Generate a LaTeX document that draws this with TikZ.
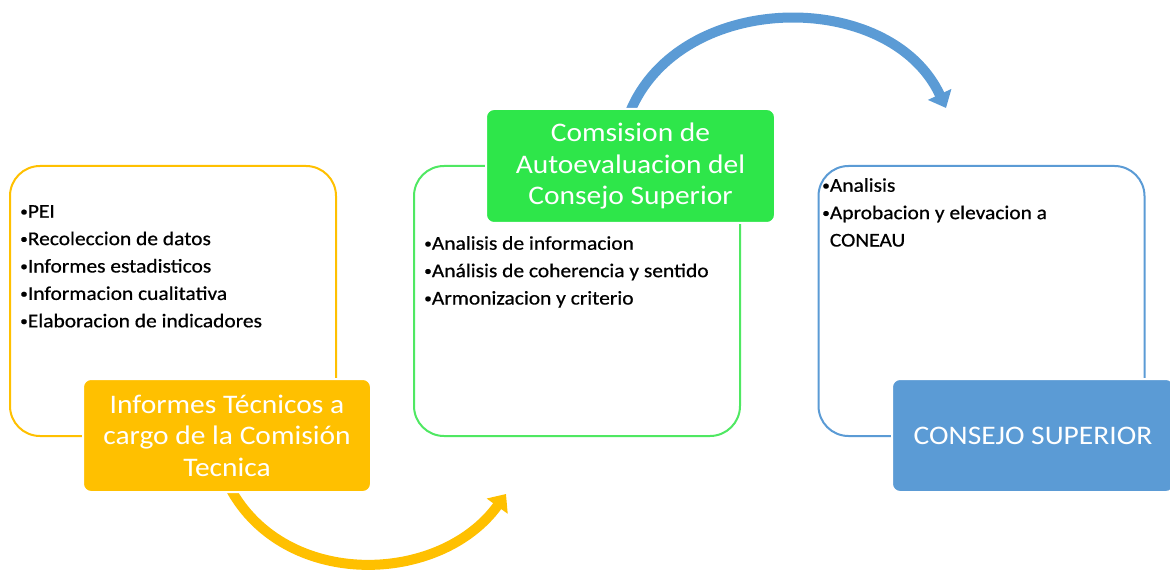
\documentclass[tikz,border=0pt]{standalone}
\usepackage{fontspec}
\setmainfont{Carlito}[FakeStretch=1.1]
\newfontfamily\listfont{Carlito}[FakeStretch=1.1,FakeBold=0.6]
\usetikzlibrary{arrows.meta}
\definecolor{cyel}{HTML}{FFC000}
\definecolor{cgrn}{HTML}{2EE64A}
\definecolor{cgrnl}{HTML}{4FE862}
\definecolor{cblu}{HTML}{5B9BD5}
\newcommand{\bul}{{\fontsize{14}{14}\selectfont\raisebox{0.12em}{•}}}
\tikzset{
  outbox/.style={draw, line width=2pt, fill=white, rounded corners=30pt, minimum width=326pt, minimum height=270pt, inner sep=0pt},
  titlebox/.style={draw=white, line width=2pt, rounded corners=8pt, text=white, align=center, inner sep=0pt,
    font=\fontsize{26.8}{31.5}\selectfont},
  listtext/.style={align=left, anchor=north west, inner sep=0pt, font=\listfont\fontsize{19.5}{27.4}\selectfont},
  flowarrow/.style={line width=10pt, -{Triangle[length=15pt,width=25pt]}}
}
\begin{document}
\begin{tikzpicture}[x=1pt,y=-1pt]
\useasboundingbox (0,0) rectangle (1170,572);
% arrows (behind boxes)
\coordinate (ystart) at (230,488);
\coordinate (yend) at (506,494);
\coordinate (bstart) at (630,112);
\coordinate (bend) at (946,108);
\draw[flowarrow, draw=cyel] (ystart) .. controls (285,590) and (440,585) .. (yend);
\draw[flowarrow, draw=cblu] (bstart) .. controls (680,-10) and (890,-12) .. (bend);
% outline boxes
\node[outbox, draw=cyel] (lbox) at (173,301) {};
\node[outbox, draw=cgrnl] (mbox) at (577,301) {};
\node[outbox, draw=cblu] (rbox) at (981.5,301) {};
% lists
\node[listtext] (ltext) at (20,205) {\bul PEI\\\bul Recoleccion de datos\\\bul Informes estadisticos\\\bul Informacion cualitativa\\\bul Elaboracion de indicadores};
\node[listtext] (mtext) at (424,236) {\bul Analisis de informacion\\\bul Análisis de coherencia y sentido\\\bul Armonizacion y criterio};
\node[listtext] (rtext) at (822,178) {\bul Analisis\\\bul Aprobacion y elevacion a\\\phantom{\bul}CONEAU};
% title boxes
\node[titlebox, fill=cyel, minimum width=288pt, minimum height=113pt] (lt) at (227,435.5) {Informes Técnicos a\\cargo de la Comisión\\Tecnica};
\node[titlebox, fill=cgrn, minimum width=289pt, minimum height=114pt] (mt) at (630.5,166) {Comsision de\\Autoevaluacion del\\Consejo Superior};
\node[titlebox, fill=cblu, minimum width=282pt, minimum height=113pt] (rt) at (1033,435.5) {CONSEJO SUPERIOR};
\end{tikzpicture}
\end{document}
